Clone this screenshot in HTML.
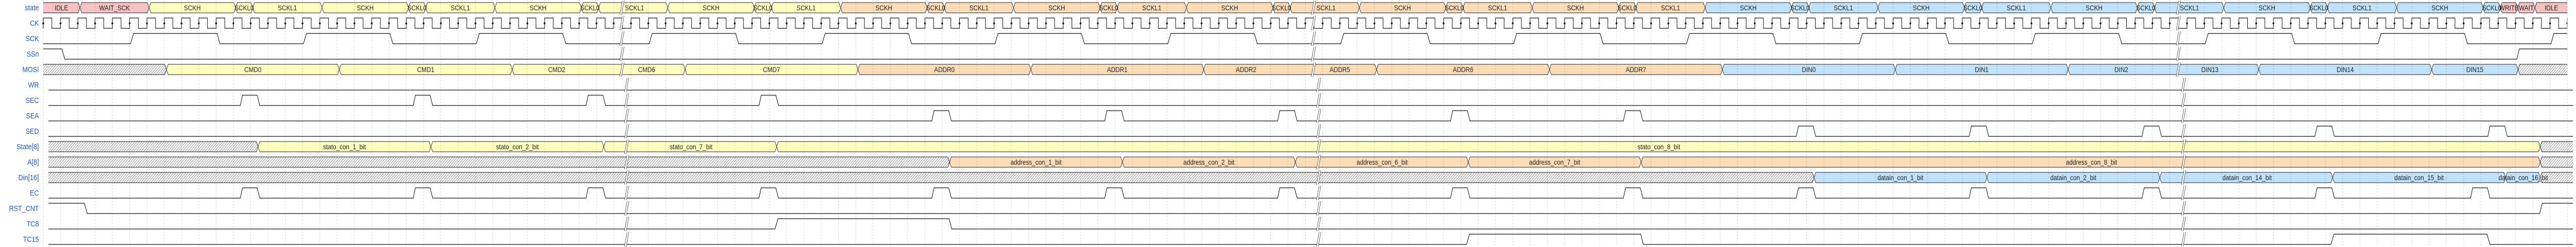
<!DOCTYPE html>
<html><head><meta charset="utf-8"><style>
html,body{margin:0;padding:0;background:#fff;width:100%;height:100%;overflow:hidden;}
svg{display:block;width:100vw;height:100vh;}
.lab{font-family:"Liberation Sans",Arial,sans-serif;font-size:15px;fill:#2357d4;text-anchor:end;}
.t{font-family:"Liberation Sans",Arial,sans-serif;font-size:14px;fill:#222;text-anchor:middle;}
.y{fill:#ffffc0;stroke:#222;stroke-width:1;}
.o{fill:#fddcb8;stroke:#222;stroke-width:1;}
.b{fill:#c0e2fb;stroke:#222;stroke-width:1;}
.p{fill:#f6c3c3;stroke:#222;stroke-width:1;}
.h{fill:url(#hatch);stroke:#222;stroke-width:1;}
.nf{stroke:none;}
.ln{fill:none;stroke:#111;stroke-width:1.2;}
</style></head><body>
<svg viewBox="0 0 5960 480" preserveAspectRatio="none" xmlns="http://www.w3.org/2000/svg">
<defs>
<pattern id="hatch" patternUnits="userSpaceOnUse" width="4" height="4" patternTransform="rotate(45)"><rect width="4" height="4" fill="#fff"/><rect x="0" y="0" width="1" height="4" fill="#888"/></pattern>
<pattern id="grid" patternUnits="userSpaceOnUse" x="98" y="0" width="40" height="6"><rect x="1.5" y="0" width="1" height="3" fill="rgba(0,0,0,0.2)"/></pattern>
<pattern id="ck" patternUnits="userSpaceOnUse" x="110" y="34" width="40" height="22"><path d="M0,1 H10 V21 H30 V1 H40" fill="none" stroke="#111" stroke-width="1.2"/><polygon points="27.5,13 32.5,13 30,7" fill="#111"/></pattern>
<g id="bk"><polygon points="0,24 4,24 10,-4 6,-4" fill="#fff"/><path d="M0,24 L6,-4 M4,24 L10,-4" stroke="#333" stroke-width="0.8" fill="none"/></g>
</defs>

<text class="lab" x="90" y="20">state</text>
<text class="lab" x="90" y="50">CK</text>
<text class="lab" x="90" y="80">SCK</text>
<text class="lab" x="90" y="110">SSn</text>
<text class="lab" x="90" y="140">MOSI</text>
<text class="lab" x="90" y="170">WR</text>
<text class="lab" x="90" y="200">SEC</text>
<text class="lab" x="90" y="230">SEA</text>
<text class="lab" x="90" y="260">SED</text>
<text class="lab" x="90" y="290">State[8]</text>
<text class="lab" x="90" y="320">A[8]</text>
<text class="lab" x="90" y="350">Din[16]</text>
<text class="lab" x="90" y="380">EC</text>
<text class="lab" x="90" y="410">RST_CNT</text>
<text class="lab" x="90" y="440">TC8</text>
<text class="lab" x="90" y="470">TC15</text>

<g transform="translate(0,5)">
<polygon class="p nf" points="100,0 181,0 185,10 181,20 100,20"/><path class="ln" style="stroke-width:1" d="M100,0 H181 L185,10 L181,20 H100"/>
<polygon class="p" points="185,10 189,0 341,0 345,10 341,20 189,20"/>
<polygon class="y" points="345,10 349,0 541,0 545,10 541,20 349,20"/><polygon class="y" points="545,10 549,0 581,0 585,10 581,20 549,20"/><polygon class="y" points="585,10 589,0 741,0 745,10 741,20 589,20"/>
<polygon class="y" points="745,10 749,0 941,0 945,10 941,20 749,20"/><polygon class="y" points="945,10 949,0 981,0 985,10 981,20 949,20"/><polygon class="y" points="985,10 989,0 1141,0 1145,10 1141,20 989,20"/>
<polygon class="y" points="1145,10 1149,0 1341,0 1345,10 1341,20 1149,20"/><polygon class="y" points="1345,10 1349,0 1381,0 1385,10 1381,20 1349,20"/><polygon class="y" points="1385,10 1389,0 1541,0 1545,10 1541,20 1389,20"/>
<polygon class="y" points="1545,10 1549,0 1741,0 1745,10 1741,20 1549,20"/><polygon class="y" points="1745,10 1749,0 1781,0 1785,10 1781,20 1749,20"/><polygon class="y" points="1785,10 1789,0 1941,0 1945,10 1941,20 1789,20"/>
<polygon class="o" points="1945,10 1949,0 2141,0 2145,10 2141,20 1949,20"/><polygon class="o" points="2145,10 2149,0 2181,0 2185,10 2181,20 2149,20"/><polygon class="o" points="2185,10 2189,0 2341,0 2345,10 2341,20 2189,20"/>
<polygon class="o" points="2345,10 2349,0 2541,0 2545,10 2541,20 2349,20"/><polygon class="o" points="2545,10 2549,0 2581,0 2585,10 2581,20 2549,20"/><polygon class="o" points="2585,10 2589,0 2741,0 2745,10 2741,20 2589,20"/>
<polygon class="o" points="2745,10 2749,0 2941,0 2945,10 2941,20 2749,20"/><polygon class="o" points="2945,10 2949,0 2981,0 2985,10 2981,20 2949,20"/><polygon class="o" points="2985,10 2989,0 3141,0 3145,10 3141,20 2989,20"/>
<polygon class="o" points="3145,10 3149,0 3341,0 3345,10 3341,20 3149,20"/><polygon class="o" points="3345,10 3349,0 3381,0 3385,10 3381,20 3349,20"/><polygon class="o" points="3385,10 3389,0 3541,0 3545,10 3541,20 3389,20"/>
<polygon class="o" points="3545,10 3549,0 3741,0 3745,10 3741,20 3549,20"/><polygon class="o" points="3745,10 3749,0 3781,0 3785,10 3781,20 3749,20"/><polygon class="o" points="3785,10 3789,0 3941,0 3945,10 3941,20 3789,20"/>
<polygon class="b" points="3945,10 3949,0 4141,0 4145,10 4141,20 3949,20"/><polygon class="b" points="4145,10 4149,0 4181,0 4185,10 4181,20 4149,20"/><polygon class="b" points="4185,10 4189,0 4341,0 4345,10 4341,20 4189,20"/>
<polygon class="b" points="4345,10 4349,0 4541,0 4545,10 4541,20 4349,20"/><polygon class="b" points="4545,10 4549,0 4581,0 4585,10 4581,20 4549,20"/><polygon class="b" points="4585,10 4589,0 4741,0 4745,10 4741,20 4589,20"/>
<polygon class="b" points="4745,10 4749,0 4941,0 4945,10 4941,20 4749,20"/><polygon class="b" points="4945,10 4949,0 4981,0 4985,10 4981,20 4949,20"/><polygon class="b" points="4985,10 4989,0 5141,0 5145,10 5141,20 4989,20"/>
<polygon class="b" points="5145,10 5149,0 5341,0 5345,10 5341,20 5149,20"/><polygon class="b" points="5345,10 5349,0 5381,0 5385,10 5381,20 5349,20"/><polygon class="b" points="5385,10 5389,0 5541,0 5545,10 5541,20 5389,20"/>
<polygon class="b" points="5545,10 5549,0 5741,0 5745,10 5741,20 5549,20"/><polygon class="b" points="5745,10 5749,0 5781,0 5785,10 5781,20 5749,20"/>
<polygon class="p" points="5785,10 5789,0 5821,0 5825,10 5821,20 5789,20"/><polygon class="p" points="5825,10 5829,0 5861,0 5865,10 5861,20 5829,20"/>
<polygon class="p nf" points="5865,10 5869,0 5940,0 5940,20 5869,20"/><path class="ln" style="stroke-width:1" d="M5940,0 H5869 L5865,10 L5869,20 H5940"/>
<text class="t" x="142" y="15">IDLE</text><text class="t" x="265" y="15">WAIT_SCK</text>
<text class="t" x="445" y="15">SCKH</text><text class="t" x="845" y="15">SCKH</text><text class="t" x="1245" y="15">SCKH</text><text class="t" x="1645" y="15">SCKH</text><text class="t" x="2045" y="15">SCKH</text><text class="t" x="2445" y="15">SCKH</text><text class="t" x="2845" y="15">SCKH</text><text class="t" x="3245" y="15">SCKH</text><text class="t" x="3645" y="15">SCKH</text><text class="t" x="4045" y="15">SCKH</text><text class="t" x="4445" y="15">SCKH</text><text class="t" x="4845" y="15">SCKH</text><text class="t" x="5245" y="15">SCKH</text><text class="t" x="5645" y="15">SCKH</text>
<text class="t" x="565" y="15">SCKL0</text><text class="t" x="965" y="15">SCKL0</text><text class="t" x="1365" y="15">SCKL0</text><text class="t" x="1765" y="15">SCKL0</text><text class="t" x="2165" y="15">SCKL0</text><text class="t" x="2565" y="15">SCKL0</text><text class="t" x="2965" y="15">SCKL0</text><text class="t" x="3365" y="15">SCKL0</text><text class="t" x="3765" y="15">SCKL0</text><text class="t" x="4165" y="15">SCKL0</text><text class="t" x="4565" y="15">SCKL0</text><text class="t" x="4965" y="15">SCKL0</text><text class="t" x="5365" y="15">SCKL0</text><text class="t" x="5765" y="15">SCKL0</text>
<text class="t" x="665" y="15">SCKL1</text><text class="t" x="1065" y="15">SCKL1</text><text class="t" x="1468" y="15">SCKL1</text><text class="t" x="1865" y="15">SCKL1</text><text class="t" x="2265" y="15">SCKL1</text><text class="t" x="2665" y="15">SCKL1</text><text class="t" x="3068" y="15">SCKL1</text><text class="t" x="3465" y="15">SCKL1</text><text class="t" x="3865" y="15">SCKL1</text><text class="t" x="4265" y="15">SCKL1</text><text class="t" x="4665" y="15">SCKL1</text><text class="t" x="5066" y="15">SCKL1</text><text class="t" x="5465" y="15">SCKL1</text>
<text class="t" x="5805" y="15">WRITE</text><text class="t" x="5845" y="15">WAIT</text><text class="t" x="5903" y="15">IDLE</text>
</g>

<rect x="100" y="34" width="5840" height="22" fill="url(#ck)"/>
<line x1="100" y1="35" x2="100" y2="55" stroke="#111" stroke-width="1.2"/>
<polygon points="97.5,47 102.5,47 100,41" fill="#111"/>

<path class="ln" transform="translate(0,65)" d="M100,20 H302 L309,0 H502 L509,20 H702 L709,0 H902 L909,20 H1102 L1109,0 H1302 L1309,20 H1502 L1509,0 H1702 L1709,20 H1902 L1909,0 H2102 L2109,20 H2302 L2309,0 H2502 L2509,20 H2702 L2709,0 H2902 L2909,20 H3102 L3109,0 H3302 L3309,20 H3502 L3509,0 H3702 L3709,20 H3902 L3909,0 H4102 L4109,20 H4302 L4309,0 H4502 L4509,20 H4702 L4709,0 H4902 L4909,20 H5102 L5109,0 H5302 L5309,20 H5502 L5509,0 H5702 L5709,20 H5902 L5909,0 H5940"/>
<path class="ln" transform="translate(0,95)" d="M100,0 H143 L150,20 H5823 L5829,0 H5940"/>

<g transform="translate(0,125)">
<polygon class="h nf" points="100,0 381,0 385,10 381,20 100,20"/><path class="ln" style="stroke-width:1" d="M100,0 H381 L385,10 L381,20 H100"/>
<polygon class="y" points="385,10 389,0 781,0 785,10 781,20 389,20"/>
<polygon class="y" points="785,10 789,0 1181,0 1185,10 1181,20 789,20"/>
<polygon class="y" points="1185,10 1189,0 1581,0 1585,10 1581,20 1189,20"/>
<polygon class="y" points="1585,10 1589,0 1981,0 1985,10 1981,20 1589,20"/>
<polygon class="o" points="1985,10 1989,0 2381,0 2385,10 2381,20 1989,20"/>
<polygon class="o" points="2385,10 2389,0 2781,0 2785,10 2781,20 2389,20"/>
<polygon class="o" points="2785,10 2789,0 3181,0 3185,10 3181,20 2789,20"/>
<polygon class="o" points="3185,10 3189,0 3581,0 3585,10 3581,20 3189,20"/>
<polygon class="o" points="3585,10 3589,0 3981,0 3985,10 3981,20 3589,20"/>
<polygon class="b" points="3985,10 3989,0 4381,0 4385,10 4381,20 3989,20"/>
<polygon class="b" points="4385,10 4389,0 4781,0 4785,10 4781,20 4389,20"/>
<polygon class="b" points="4785,10 4789,0 5222,0 5226,10 5222,20 4789,20"/>
<polygon class="b" points="5226,10 5230,0 5622,0 5626,10 5622,20 5230,20"/>
<polygon class="b" points="5626,10 5630,0 5822,0 5826,10 5822,20 5630,20"/>
<polygon class="h nf" points="5826,10 5830,0 5940,0 5940,20 5830,20"/><path class="ln" style="stroke-width:1" d="M5940,0 H5830 L5826,10 L5830,20 H5940"/>
<text class="t" x="585" y="15">CMD0</text><text class="t" x="985" y="15">CMD1</text><text class="t" x="1288" y="15">CMD2</text><text class="t" x="1496" y="15">CMD6</text><text class="t" x="1785" y="15">CMD7</text>
<text class="t" x="2185" y="15">ADDR0</text><text class="t" x="2585" y="15">ADDR1</text><text class="t" x="2883" y="15">ADDR2</text><text class="t" x="3100" y="15">ADDR5</text><text class="t" x="3385" y="15">ADDR6</text><text class="t" x="3785" y="15">ADDR7</text>
<text class="t" x="4185" y="15">DIN0</text><text class="t" x="4585" y="15">DIN1</text><text class="t" x="4908" y="15">DIN2</text><text class="t" x="5113" y="15">DIN13</text><text class="t" x="5426" y="15">DIN14</text><text class="t" x="5726" y="15">DIN15</text>
</g>

<path class="ln" transform="translate(0,155)" d="M112,20 H5953"/>
<path class="ln" transform="translate(0,185)" d="M112,20 H556 L561,0 H595 L601,20 H956 L961,0 H995 L1001,20 H1356 L1361,0 H1395 L1401,20 H1756 L1761,0 H1795 L1801,20 H5953"/>
<path class="ln" transform="translate(0,215)" d="M112,20 H2156 L2161,0 H2195 L2201,20 H2556 L2561,0 H2595 L2601,20 H2956 L2961,0 H2995 L3001,20 H3356 L3361,0 H3395 L3401,20 H3756 L3761,0 H3795 L3801,20 H5953"/>
<path class="ln" transform="translate(0,245)" d="M112,20 H4156 L4161,0 H4195 L4201,20 H4556 L4561,0 H4595 L4601,20 H4956 L4961,0 H4995 L5001,20 H5356 L5361,0 H5395 L5401,20 H5756 L5761,0 H5795 L5801,20 H5953"/>

<g transform="translate(0,275)">
<polygon class="h nf" points="112,0 593,0 597,10 593,20 112,20"/><path class="ln" style="stroke-width:1" d="M112,0 H593 L597,10 L593,20 H112"/>
<polygon class="y" points="597,10 601,0 993,0 997,10 993,20 601,20"/>
<polygon class="y" points="997,10 1001,0 1393,0 1397,10 1393,20 1001,20"/>
<polygon class="y" points="1397,10 1401,0 1793,0 1797,10 1793,20 1401,20"/>
<polygon class="y" points="1797,10 1801,0 5873,0 5877,10 5873,20 1801,20"/>
<polygon class="h nf" points="5877,10 5881,0 5953,0 5953,20 5881,20"/><path class="ln" style="stroke-width:1" d="M5953,0 H5881 L5877,10 L5881,20 H5953"/>
<text class="t" x="797" y="15">stato_con_1_bit</text><text class="t" x="1197" y="15">stato_con_2_bit</text><text class="t" x="1599" y="15">stato_con_7_bit</text><text class="t" x="3838" y="15">stato_con_8_bit</text>
</g>
<g transform="translate(0,305)">
<polygon class="h nf" points="112,0 2193,0 2197,10 2193,20 112,20"/><path class="ln" style="stroke-width:1" d="M112,0 H2193 L2197,10 L2193,20 H112"/>
<polygon class="o" points="2197,10 2201,0 2593,0 2597,10 2593,20 2201,20"/>
<polygon class="o" points="2597,10 2601,0 2993,0 2997,10 2993,20 2601,20"/>
<polygon class="o" points="2997,10 3001,0 3393,0 3397,10 3393,20 3001,20"/>
<polygon class="o" points="3397,10 3401,0 3793,0 3797,10 3793,20 3401,20"/>
<polygon class="o" points="3797,10 3801,0 5873,0 5877,10 5873,20 3801,20"/>
<polygon class="h nf" points="5877,10 5881,0 5953,0 5953,20 5881,20"/><path class="ln" style="stroke-width:1" d="M5953,0 H5881 L5877,10 L5881,20 H5953"/>
<text class="t" x="2397" y="15">address_con_1_bit</text><text class="t" x="2797" y="15">address_con_2_bit</text><text class="t" x="3198" y="15">address_con_6_bit</text><text class="t" x="3597" y="15">address_con_7_bit</text><text class="t" x="4839" y="15">address_con_8_bit</text>
</g>
<g transform="translate(0,335)">
<polygon class="h nf" points="112,0 4193,0 4197,10 4193,20 112,20"/><path class="ln" style="stroke-width:1" d="M112,0 H4193 L4197,10 L4193,20 H112"/>
<polygon class="b" points="4197,10 4201,0 4593,0 4597,10 4593,20 4201,20"/>
<polygon class="b" points="4597,10 4601,0 4993,0 4997,10 4993,20 4601,20"/>
<polygon class="b" points="4997,10 5001,0 5393,0 5397,10 5393,20 5001,20"/>
<polygon class="b" points="5397,10 5401,0 5793,0 5797,10 5793,20 5401,20"/>
<polygon class="b" points="5797,10 5801,0 5873,0 5877,10 5873,20 5801,20"/>
<polygon class="h nf" points="5877,10 5881,0 5953,0 5953,20 5881,20"/><path class="ln" style="stroke-width:1" d="M5953,0 H5881 L5877,10 L5881,20 H5953"/>
<text class="t" x="4397" y="15">datain_con_1_bit</text><text class="t" x="4797" y="15">datain_con_2_bit</text><text class="t" x="5199" y="15">datain_con_14_bit</text><text class="t" x="5597" y="15">datain_con_15_bit</text><text class="t" x="5838" y="15">datain_con_16_bit</text>
</g>

<path class="ln" transform="translate(0,365)" d="M112,20 H556 L561,0 H595 L601,20 H956 L961,0 H995 L1001,20 H1356 L1361,0 H1395 L1401,20 H1756 L1761,0 H1795 L1801,20 H2156 L2161,0 H2195 L2201,20 H2556 L2561,0 H2595 L2601,20 H2956 L2961,0 H2995 L3001,20 H3356 L3361,0 H3395 L3401,20 H3756 L3761,0 H3795 L3801,20 H4156 L4161,0 H4195 L4201,20 H4556 L4561,0 H4595 L4601,20 H4956 L4961,0 H4995 L5001,20 H5356 L5361,0 H5395 L5401,20 H5716 L5721,0 H5755 L5761,20 H5953"/>
<path class="ln" transform="translate(0,395)" d="M112,0 H195 L202,20 H5876 L5882,0 H5953"/>
<path class="ln" transform="translate(0,425)" d="M112,20 H1793 L1800,0 H2196 L2202,20 H5953"/>
<path class="ln" transform="translate(0,455)" d="M112,20 H3393 L3400,0 H3796 L3802,20 H5393 L5400,0 H5754 L5761,20 H5953"/>

<rect x="98" y="0" width="5845" height="480" fill="url(#grid)"/>

<use href="#bk" x="1434" y="5"/><use href="#bk" x="1434" y="35"/><use href="#bk" x="1434" y="65"/><use href="#bk" x="1434" y="95"/><use href="#bk" x="1434" y="125"/>
<use href="#bk" x="1445" y="155"/><use href="#bk" x="1445" y="185"/><use href="#bk" x="1445" y="215"/><use href="#bk" x="1445" y="245"/><use href="#bk" x="1445" y="275"/><use href="#bk" x="1445" y="305"/><use href="#bk" x="1445" y="335"/><use href="#bk" x="1445" y="365"/><use href="#bk" x="1445" y="395"/><use href="#bk" x="1445" y="425"/><use href="#bk" x="1445" y="455"/>
<use href="#bk" x="3034" y="5"/><use href="#bk" x="3034" y="35"/><use href="#bk" x="3034" y="65"/><use href="#bk" x="3034" y="95"/><use href="#bk" x="3034" y="125"/>
<use href="#bk" x="3046" y="155"/><use href="#bk" x="3046" y="185"/><use href="#bk" x="3046" y="215"/><use href="#bk" x="3046" y="245"/><use href="#bk" x="3046" y="275"/><use href="#bk" x="3046" y="305"/><use href="#bk" x="3046" y="335"/><use href="#bk" x="3046" y="365"/><use href="#bk" x="3046" y="395"/><use href="#bk" x="3046" y="425"/><use href="#bk" x="3046" y="455"/>
<use href="#bk" x="5035" y="5"/><use href="#bk" x="5035" y="35"/><use href="#bk" x="5035" y="65"/><use href="#bk" x="5035" y="95"/><use href="#bk" x="5035" y="125"/>
<use href="#bk" x="5047" y="155"/><use href="#bk" x="5047" y="185"/><use href="#bk" x="5047" y="215"/><use href="#bk" x="5047" y="245"/><use href="#bk" x="5047" y="275"/><use href="#bk" x="5047" y="305"/><use href="#bk" x="5047" y="335"/><use href="#bk" x="5047" y="365"/><use href="#bk" x="5047" y="395"/><use href="#bk" x="5047" y="425"/><use href="#bk" x="5047" y="455"/>
</svg>
</body></html>
